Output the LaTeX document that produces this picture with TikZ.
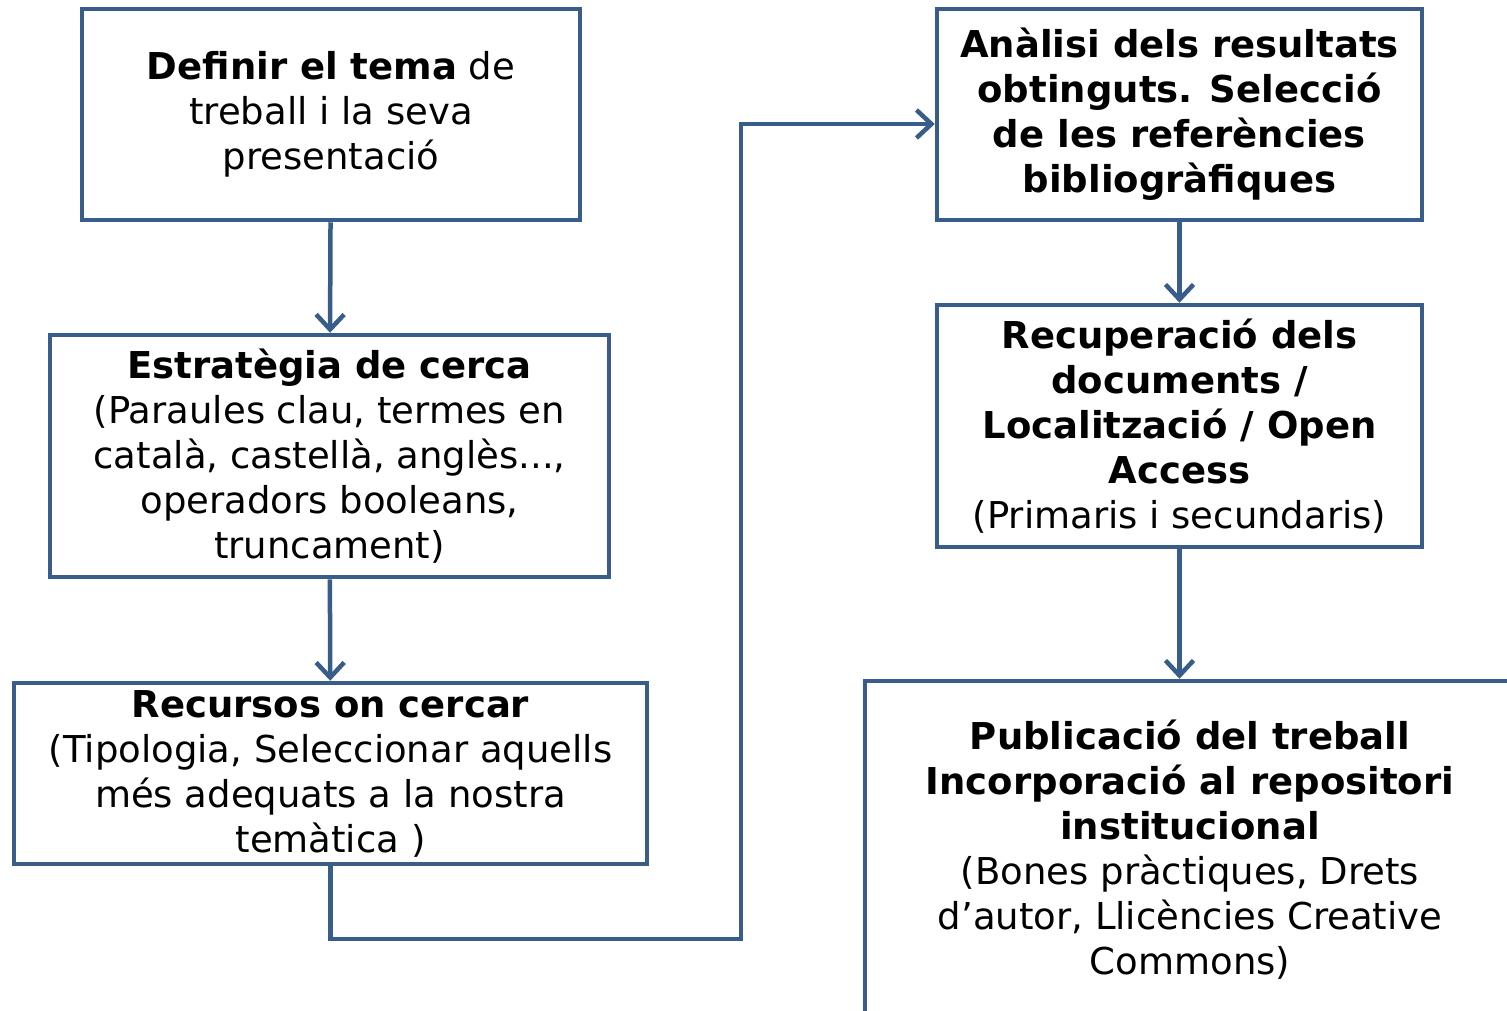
\documentclass[tikz,border=0pt]{standalone}
\usepackage{fontspec}
\setmainfont{DejaVu Sans}
\usetikzlibrary{arrows.meta}
\definecolor{boxblue}{HTML}{385D8A}

\begin{document}
\begin{tikzpicture}[x=1pt,y=-1pt]
\tikzstyle{box}=[draw=boxblue,line width=4.5pt,inner sep=0pt,align=center,font=\fontsize{37}{45}\selectfont];
\tikzstyle{dir}=[draw=boxblue,line width=4.5pt,-{Straight Barb[length=15pt,width=28pt,line width=4.5pt]}];
\useasboundingbox (0,0) rectangle (1507,1010);
\clip (0,0) rectangle (1507,1010);
\node [box,minimum width=498pt,minimum height=211pt] (b1) at (331,114.5)
  {\textbf{Definir el tema} de\\treball i la seva\\presentació};
\node [box,minimum width=559pt,minimum height=242pt] (b2) at (329.5,456)
  {\textbf{Estratègia de cerca}\\(Paraules clau, termes en\\català, castellà, anglès...,\\operadors booleans,\\truncament)};
\node [box,minimum width=633pt,minimum height=181pt] (b3) at (330.5,773.5)
  {\textbf{Recursos on cercar}\\(Tipologia, Seleccionar aquells\\més adequats a la nostra\\temàtica )};
\node [box,minimum width=485pt,minimum height=211pt] (b4) at (1179.5,114.5)
  {\textbf{Anàlisi dels resultats}\\\textbf{obtinguts. Selecció}\\\textbf{de les referències}\\\textbf{bibliogràfiques}};
\node [box,minimum width=485pt,minimum height=242pt] (b5) at (1179.5,426)
  {\textbf{Recuperació dels}\\\textbf{documents /}\\\textbf{Localització / Open}\\\textbf{Access}\\(Primaris i secundaris)};
\node [box,minimum width=650pt,minimum height=338pt] (b6) at (1190,850)
  {\textbf{Publicació del treball}\\\textbf{Incorporació al repositori}\\\textbf{institucional}\\(Bones pràctiques, Drets\\d’autor, Llicències Creative\\Commons)};
\coordinate (k1) at (741,939);
\draw [dir] (b1) -- (b2);
\draw [dir] (b2) -- (b3);
\draw [dir] (b3.south) |- (k1) |- ([yshift=-9.5pt]b4.west);
\draw [dir] (b4) -- (b5);
\draw [dir] (b5.south) -- (b5.south |- b6.north);
\end{tikzpicture}
\end{document}
